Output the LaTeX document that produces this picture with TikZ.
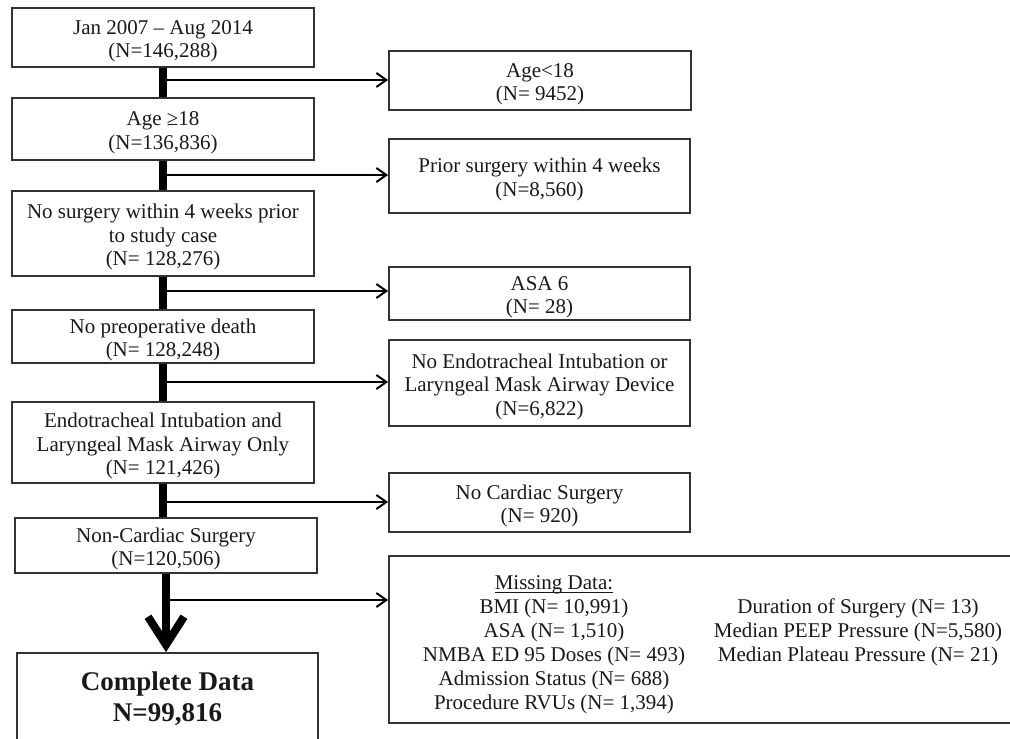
\documentclass[tikz,border=0pt]{standalone}
\usepackage{fontspec}
\setmainfont{Liberation Serif}
\usetikzlibrary{arrows.meta,fit}
\newsavebox{\myulbox}
\newcommand{\myul}[1]{\sbox{\myulbox}{#1}\rlap{\rule[-1.5pt]{\wd\myulbox}{0.5pt}}\usebox{\myulbox}}
\begin{document}
\begin{tikzpicture}[x=0.5pt,y=-0.5pt,
  box/.style={draw=black!80, line width=0.9pt, inner sep=0pt},
  txt/.style={align=center, inner sep=0pt, text=black!90, font=\fontsize{10.5}{11.8}\selectfont},
  btxt/.style={txt, yshift=-1.8pt},
  flow/.style={line width=4pt},
  excl/.style={line width=1pt, -{Straight Barb[length=5pt,width=7pt]}},
  big/.style={line width=4pt, -{Straight Barb[length=14pt,width=18pt]}}]
\useasboundingbox (0,0) rectangle (1010,738);
\clip (0,0) rectangle (1010,738);
% main column boxes
\node[box, fit={(12,8)(314,67)}] (b1) {};
\node[box, fit={(12,98)(314,160)}] (b2) {};
\node[box, fit={(12,191)(314,276)}] (b3) {};
\node[box, fit={(12,310)(314,363)}] (b4) {};
\node[box, fit={(12,402)(314,483)}] (b5) {};
\node[box, fit={(15,518)(317,573)}] (b6) {};
\node[box, fit={(17,653)(318,744)}] (b7) {};
% exclusion boxes
\node[box, fit={(389,51)(691,110)}] (r1) {};
\node[box, fit={(389,139)(690,213)}] (r2) {};
\node[box, fit={(389,267)(690,320)}] (r3) {};
\node[box, fit={(389,340)(690,426)}] (r4) {};
\node[box, fit={(389,473)(690,532)}] (r5) {};
\node[box, fit={(389,556)(1016,723)}] (r6) {};
% texts
\node[btxt] (t1) at (b1) {Jan 2007 – Aug 2014\\(N=146,288)};
\node[btxt] (t2) at (b2) {Age ≥18\\(N=136,836)};
\node[btxt] (t3) at (b3) {No surgery within 4 weeks prior\\to study case\\(N= 128,276)};
\node[btxt] (t4) at (b4) {No preoperative death\\(N= 128,248)};
\node[btxt] (t5) at (b5) {Endotracheal Intubation and\\Laryngeal Mask Airway Only\\(N= 121,426)};
\node[btxt] (t6) at (b6) {Non-Cardiac Surgery\\(N=120,506)};
\node[txt, font=\bfseries\fontsize{13.5}{15.5}\selectfont] (t7) at (167.5,699) {Complete Data\\N=99,816};
\node[btxt] (s1) at (r1) {Age<18\\(N= 9452)};
\node[btxt] (s2) at (r2) {Prior surgery within 4 weeks\\(N=8,560)};
\node[btxt] (s3) at (r3) {ASA 6\\(N= 28)};
\node[btxt] (s4) at (r4) {No Endotracheal Intubation or\\Laryngeal Mask Airway Device\\(N=6,822)};
\node[btxt] (s5) at (r5) {No Cardiac Surgery\\(N= 920)};
\node[txt, font=\fontsize{10.5}{12}\selectfont] (m1) at (554,645) {\myul{Missing Data:}\\BMI (N= 10,991)\\ASA (N= 1,510)\\NMBA ED 95 Doses (N= 493)\\Admission Status (N= 688)\\Procedure RVUs (N= 1,394)};
\node[txt, font=\fontsize{10.5}{12}\selectfont] (m2) at (858,632) {Duration of Surgery (N= 13)\\Median PEEP Pressure (N=5,580)\\Median Plateau Pressure (N= 21)};
% main flow
\draw[flow] (b1.south) -- (b2.north);
\draw[flow] (b2.south) -- (b3.north);
\draw[flow] (b3.south) -- (b4.north);
\draw[flow] (b4.south) -- (b5.north);
\draw[flow] (b5.south) -- (b5.south |- b6.north);
\draw[big] (b6.south) -- (b6.south |- b7.north);
% exclusion arrows
\coordinate (j1) at (163,80);
\coordinate (j2) at (163,175);
\coordinate (j3) at (163,291);
\coordinate (j4) at (163,382);
\coordinate (j5) at (163,502);
\coordinate (j6) at (166,600);
\draw[excl] (j1) -- (j1 -| r1.west);
\draw[excl] (j2) -- (j2 -| r2.west);
\draw[excl] (j3) -- (j3 -| r3.west);
\draw[excl] (j4) -- (j4 -| r4.west);
\draw[excl] (j5) -- (j5 -| r5.west);
\draw[excl] (j6) -- (j6 -| r6.west);
\end{tikzpicture}
\end{document}
